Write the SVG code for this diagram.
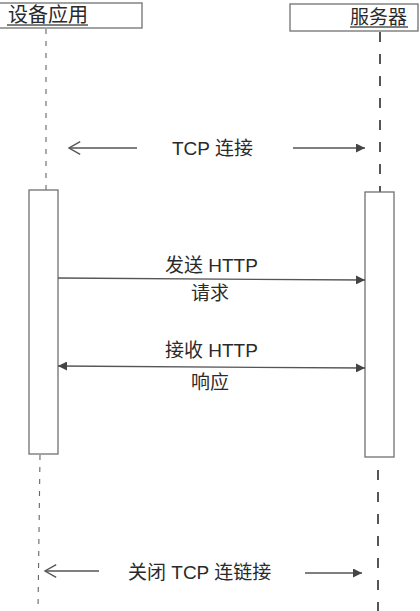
<svg xmlns="http://www.w3.org/2000/svg" width="420" height="611" viewBox="0 0 420 611">
<style>
.bg{fill:#ffffff}
.box{fill:#ffffff;stroke:#707070;stroke-width:1.3}
.ul{stroke:#555;stroke-width:1.6}
.t{font-family:"Liberation Sans","Noto Sans CJK SC",sans-serif;font-size:19px;fill:#2a2a2a}
.th{font-family:"Liberation Sans","Noto Sans CJK SC",sans-serif;font-size:20px;fill:#2a2a2a}
.lifeL{stroke:#666;stroke-width:1.1;stroke-dasharray:5 7;fill:none}
.lifeR{stroke:#444;stroke-width:1.8;stroke-dasharray:10 12;fill:none}
.msg{stroke:#555;stroke-width:1.3;fill:none}
</style>
<defs>
<marker id="fill" viewBox="0 0 10 10" refX="10" refY="5" markerWidth="9" markerHeight="9" markerUnits="userSpaceOnUse" orient="auto-start-reverse">
<path d="M0,0 L10,5 L0,10 z" fill="#444"/>
</marker>
<marker id="open" viewBox="0 0 10 10" refX="9" refY="5" markerWidth="14" markerHeight="14" markerUnits="userSpaceOnUse" orient="auto">
<path d="M1,0.5 L9,5 L1,9.5" fill="none" stroke="#555" stroke-width="1"/>
</marker>
</defs>
<rect class="bg" x="0" y="0" width="420" height="611"/>

<g id="lifelines">
<line class="lifeL" x1="46" y1="29" x2="46" y2="190"/>
<line class="lifeL" x1="40" y1="455" x2="38" y2="611"/>
<line class="lifeR" x1="380" y1="32" x2="380" y2="192"/>
<line class="lifeR" x1="378" y1="470" x2="378" y2="611"/>
</g>

<g id="device">
<rect class="box" x="-2" y="3" width="144" height="25"/>
<text class="th" x="8" y="22">设备应用</text>
<line class="ul" x1="7" y1="25" x2="88" y2="25"/>
</g>

<g id="server">
<rect class="box" x="290" y="4" width="128" height="27"/>
<text class="t" x="350" y="24">服务器</text>
<line class="ul" x1="350" y1="27" x2="408" y2="27"/>
</g>

<g id="device-activation">
<rect class="box" x="29" y="190" width="29" height="264"/>
</g>

<g id="server-activation">
<rect class="box" x="365" y="192" width="29" height="265"/>
</g>

<g id="connectors">
<line class="msg" x1="137" y1="148" x2="69" y2="148" marker-end="url(#open)"/>
<line class="msg" x1="293" y1="148" x2="365" y2="148" marker-end="url(#fill)"/>
<line class="msg" x1="58" y1="278" x2="365" y2="280" marker-end="url(#fill)"/>
<line class="msg" x1="58" y1="366" x2="365" y2="368" marker-start="url(#fill)" marker-end="url(#fill)"/>
<line class="msg" x1="99" y1="571" x2="45" y2="571" marker-end="url(#open)"/>
<line class="msg" x1="305" y1="573" x2="362" y2="573" marker-end="url(#fill)"/>
</g>

<g id="labels">
<text class="t" x="172" y="155">TCP 连接</text>
<text class="t" x="165" y="272">发送 HTTP</text>
<text class="t" x="191" y="300">请求</text>
<text class="t" x="165" y="357">接收 HTTP</text>
<text class="t" x="191" y="389">响应</text>
<text class="t" x="128" y="579">关闭 TCP 连链接</text>
</g>
</svg>
